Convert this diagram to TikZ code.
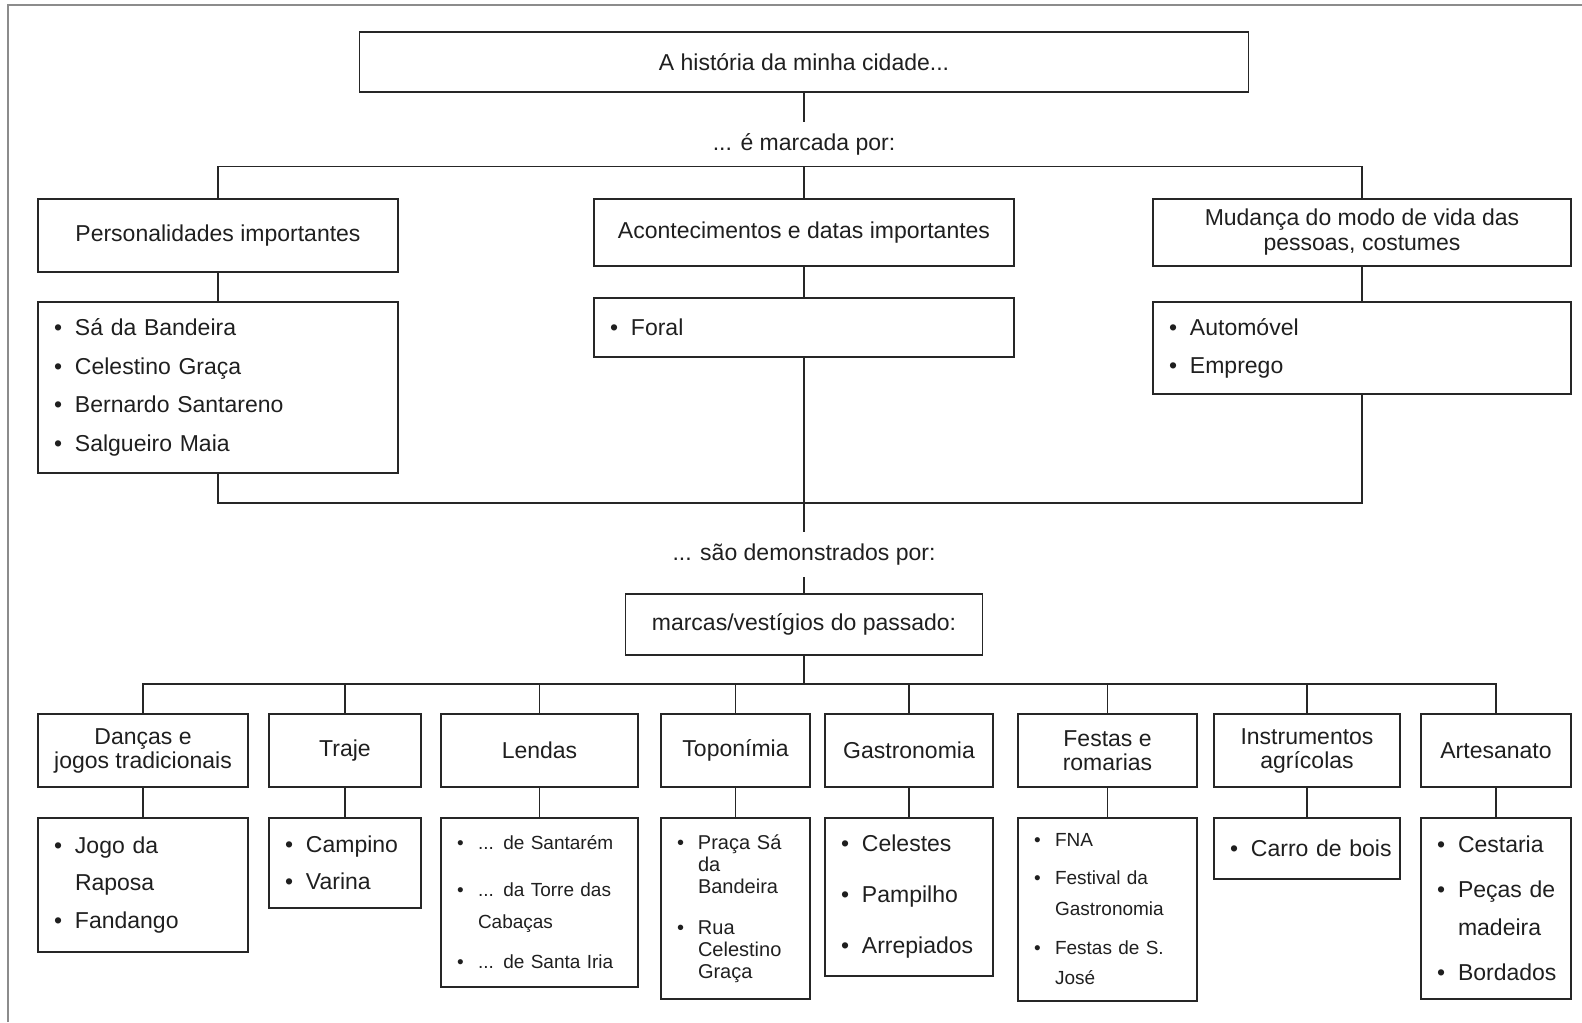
\documentclass[tikz,border=0pt]{standalone}
\usepackage{fontspec}
\setmainfont{Liberation Sans}
\newcommand{\litem}[1]{\mbox{\makebox[10.5pt][l]{\textbullet}#1}}
\newcommand{\lcont}[1]{\mbox{\hspace*{10.5pt}#1}}
\tikzset{
	box/.style={draw=black!85, line width=0.9pt, text=black!88, inner sep=2pt, align=center},
	hdr/.style={box, minimum height=36.5pt, font=\fontsize{11.5}{12}\selectfont},
	lst/.style={box, align=left, inner xsep=8pt, inner ysep=0pt},
	lbl/.style={inner sep=0pt, minimum height=22pt, text=black!88},
	con/.style={draw=black!85, line width=0.9pt}
}
\begin{document}
\begin{tikzpicture}[x=0.5pt, y=-0.5pt, font=\fontsize{11.5}{13.8}\selectfont]
	\useasboundingbox (0,0) rectangle (1582,1022);
	\draw[black!45, line width=0.9pt] (8,1022)--(8,5)--(1582,5);
	\node[box, minimum width=444.5pt, minimum height=30pt] (top) at (804,62) {A história da minha cidade...};
	\node[lbl] (marc) at (804,144) {... é marcada por:};
	\node[box, minimum width=180pt, minimum height=36.5pt] (pers) at (218,235.5) {Personalidades importantes};
	\node[box, minimum width=210pt, minimum height=33.5pt] (acont) at (804,232.5) {Acontecimentos e datas importantes};
	\node[box, minimum width=209pt, minimum height=33.5pt, font=\fontsize{11.5}{12.5}\selectfont] (mud) at (1362,232.5) {Mudança do modo de vida das\\pessoas, costumes};
	\node[lst, minimum width=180pt, text width=164pt, minimum height=85.5pt] (pers-l) at (218,387.5)
		{\litem{Sá da Bandeira}\\[5.4pt]\litem{Celestino Graça}\\[5.4pt]\litem{Bernardo Santareno}\\[5.4pt]\litem{Salgueiro Maia}};
	\node[lst, minimum width=210pt, text width=194pt, minimum height=29.5pt] (foral) at (804,327.5) {\litem{Foral}};
	\node[lst, minimum width=209pt, text width=193pt, minimum height=46pt] (mud-l) at (1362,348)
		{\litem{Automóvel}\\[5.2pt]\litem{Emprego}};
	\coordinate (join) at (804,503);
	\node[lbl, minimum height=22.5pt] (dem) at (804,554.5) {... são demonstrados por:};
	\node[box, minimum width=178.5pt, minimum height=30.5pt] (marcas) at (804,624.5) {marcas/vestígios do passado:};
	\coordinate (bus) at (804,684);
	\node[hdr, minimum width=105pt] (dan) at (143,750.5) {Danças e\\jogos tradicionais};
	\node[hdr, minimum width=76pt] (traj) at (345,750.5) {Traje};
	\node[hdr, minimum width=98.5pt] (lend) at (539.5,750.5) {Lendas};
	\node[hdr, minimum width=74.5pt] (topo) at (735.5,750.5) {Toponímia};
	\node[hdr, minimum width=84pt] (gast) at (909,750.5) {Gastronomia};
	\node[hdr, minimum width=89.5pt] (fest) at (1107.5,750.5) {Festas e\\romarias};
	\node[hdr, minimum width=93pt] (inst) at (1307,750.5) {Instrumentos\\agrícolas};
	\node[hdr, minimum width=75pt] (arte) at (1496,750.5) {Artesanato};
	\node[lst, minimum width=105pt, text width=89pt, minimum height=67pt] (dan-l) at (143,885)
		{\litem{Jogo da}\\[5pt]\lcont{Raposa}\\[5pt]\litem{Fandango}};
	\node[lst, minimum width=76pt, text width=60pt, minimum height=45pt] (traj-l) at (345,863)
		{\litem{Campino}\\[4.7pt]\litem{Varina}};
	\node[lst, minimum width=98.5pt, text width=82.5pt, minimum height=84.5pt, font=\fontsize{9.5}{11.4}\selectfont] (lend-l) at (539.5,902.5)
		{\litem{... de Santarém}\\[12.1pt]\litem{... da Torre das}\\[4.6pt]\lcont{Cabaças}\\[8.6pt]\litem{... de Santa Iria}};
	\node[lst, minimum width=74.5pt, text width=58.5pt, minimum height=90.5pt, font=\fontsize{10}{11}\selectfont] (topo-l) at (735.5,908.5)
		{\litem{Praça Sá}\\\lcont{da}\\\lcont{Bandeira}\\[9.5pt]\litem{Rua}\\\lcont{Celestino}\\\lcont{Graça}};
	\node[lst, minimum width=84pt, text width=68pt, minimum height=79pt] (gast-l) at (909,897)
		{\litem{Celestes}\\[11.7pt]\litem{Pampilho}\\[11.7pt]\litem{Arrepiados}};
	\node[lst, minimum width=89.5pt, text width=73.5pt, minimum height=91.5pt, font=\fontsize{9.5}{11.4}\selectfont] (fest-l) at (1107.5,909.5)
		{\litem{FNA}\\[7.6pt]\litem{Festival da}\\[4.1pt]\lcont{Gastronomia}\\[8.1pt]\litem{Festas de S.}\\[3.6pt]\lcont{José}};
	\node[lst, minimum width=93pt, text width=77pt, minimum height=30.5pt] (inst-l) at (1307,848.5) {\litem{Carro de bois}};
	\node[lst, minimum width=75pt, text width=59pt, minimum height=90.5pt] (arte-l) at (1496,908.5)
		{\litem{Cestaria}\\[8.7pt]\litem{Peças de}\\[5.2pt]\lcont{madeira}\\[8.7pt]\litem{Bordados}};
	\draw[con] (top) -- (marc);
	\draw[con] (pers.north) |- (marc.south) -| (mud.north);
	\draw[con] (marc) -- (acont);
	\draw[con] (pers) -- (pers-l);
	\draw[con] (acont) -- (foral);
	\draw[con] (mud) -- (mud-l);
	\draw[con] (pers-l.south) |- (join) -| (mud-l.south);
	\draw[con] (foral) -- (join) -- (dem);
	\draw[con] (dem) -- (marcas) -- (bus);
	\draw[con] (dan.north) |- (bus) -| (arte.north);
	\foreach \n in {traj,lend,topo,gast,fest,inst}
		\draw[con] (\n) -- (\n.north |- bus);
	\foreach \n in {dan,traj,lend,topo,gast,fest,inst,arte}
		\draw[con] (\n) -- (\n-l);
\end{tikzpicture}
\end{document}
